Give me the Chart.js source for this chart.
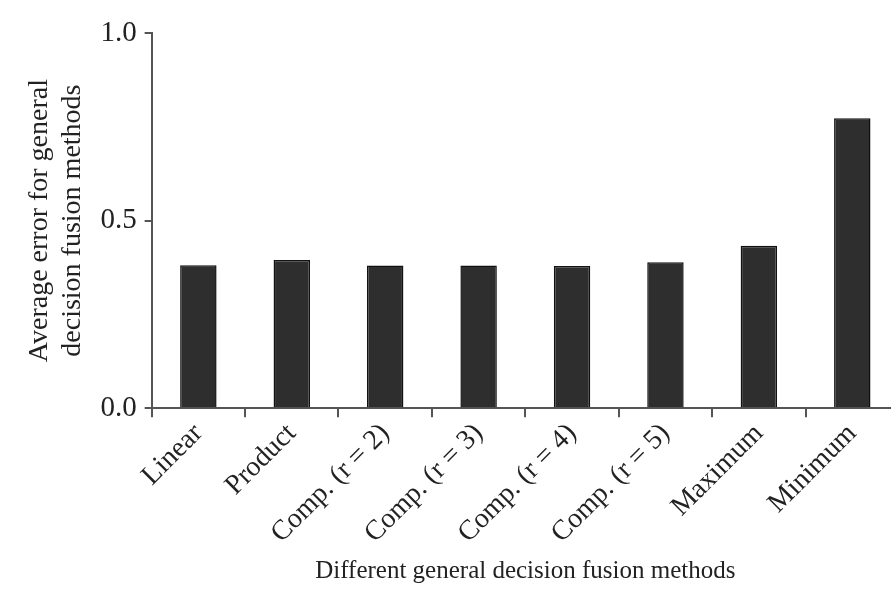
<!DOCTYPE html>
<html>
<head>
<meta charset="utf-8">
<script src="https://cdn.jsdelivr.net/npm/chart.js@4/dist/chart.umd.min.js"></script>
<style>
  html, body { margin: 0; padding: 0; background: #fff; overflow: hidden; }
  #wrap { width: 900px; height: 610px; }
</style>
</head>
<body>
<div id="wrap"><canvas id="myChart"></canvas></div>
<script>
    // setup
    const methods = ['Linear', 'Product', 'Comp. (r = 2)', 'Comp. (r = 3)', 'Comp. (r = 4)', 'Comp. (r = 5)', 'Maximum', 'Minimum'];
    const avgError = [0.381, 0.395, 0.380, 0.380, 0.379, 0.389, 0.433, 0.773];
    const yTicks = [0, 0.5, 1.0];

    const serif = "'Liberation Serif', 'DejaVu Serif', serif";
    const axisGrey = '#555';

    const data = {
      labels: methods,
      datasets: [{
        data: avgError,
        backgroundColor: '#2e2e2e',
        borderColor: '#111',
        borderWidth: 1.5,
        barPercentage: 0.39,
        categoryPercentage: 1
      }]
    };

    // config
    const config = {
      type: 'bar',
      data,
      options: {
        responsive: true,
        maintainAspectRatio: false,
        animation: false,
        layout: { padding: { top: 33, right: 1, bottom: 24, left: 24 } },
        plugins: {
          legend: { display: false },
          tooltip: { enabled: false }
        },
        scales: {
          x: {
            border: { display: true, color: axisGrey, width: 2 },
            grid: { display: true, drawOnChartArea: false, drawTicks: true, tickLength: 9, color: axisGrey, lineWidth: 2, offset: true },
            ticks: {
              color: '#222',
              font: { family: serif, size: 28 },
              minRotation: 45,
              maxRotation: 45,
              padding: 0
            },
            title: {
              display: true,
              text: 'Different general decision fusion methods',
              color: '#222',
              font: { family: serif, size: 25 },
              padding: { top: 6, bottom: 0 }
            }
          },
          y: {
            min: 0,
            max: 1,
            border: { display: true, color: axisGrey, width: 2 },
            grid: { display: true, drawOnChartArea: false, drawTicks: true, tickLength: 7, color: axisGrey, lineWidth: 2 },
            afterBuildTicks: (scale) => { scale.ticks = yTicks.map(v => ({ value: v })); },
            ticks: {
              color: '#222',
              font: { family: serif, size: 29 },
              padding: 8,
              callback: (v) => Number(v).toFixed(1)
            },
            title: {
              display: true,
              text: ['Average error for general', 'decision fusion methods'],
              color: '#222',
              font: { family: serif, size: 28, lineHeight: 1.15 },
              padding: { top: 0, bottom: 4 }
            }
          }
        }
      }
    };

    // render init block
    const myChart = new Chart(
      document.getElementById('myChart'),
      config
    );
</script>
</body>
</html>
